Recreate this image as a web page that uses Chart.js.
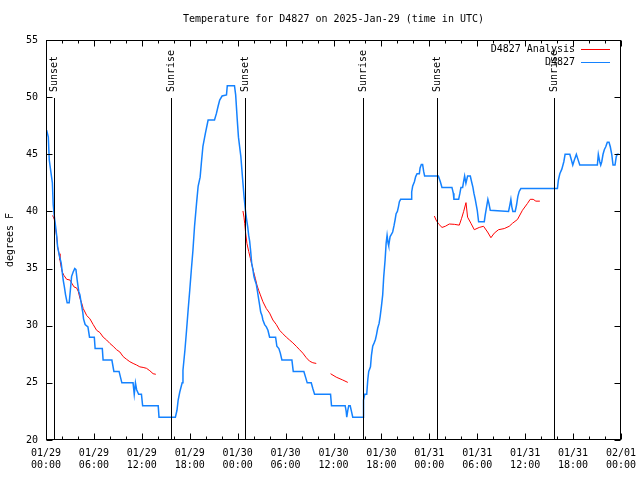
<!DOCTYPE html>
<html lang="en">
<head>
    <meta charset="UTF-8">
    <title>Temperature for D4827</title>
    <script src="https://cdn.jsdelivr.net/npm/chart.js"></script>
    <style>
        body { margin: 0; background: #fff; }
        canvas { display: block; background: #fff; }
    </style>
</head>
<body>
    <canvas id="tempChart" width="640" height="480"></canvas>

    <script>
        const chartTitle = 'Temperature for D4827 on 2025-Jan-29 (time in UTC)';

        // hours since 01/29 00:00 UTC
        const xTickDates = ['01/29', '01/29', '01/29', '01/29', '01/30', '01/30', '01/30', '01/30', '01/31', '01/31', '01/31', '01/31', '02/01'];
        const xTickTimes = ['00:00', '06:00', '12:00', '18:00', '00:00', '06:00', '12:00', '18:00', '00:00', '06:00', '12:00', '18:00', '00:00'];

        const sunHours = [1.04, 15.66, 24.91, 39.66, 48.91, 63.66];
        const sunLabels = ['Sunset', 'Sunrise', 'Sunset', 'Sunrise', 'Sunset', 'Sunrise'];

        const blueHours = [
            0.08, 0.29, 0.41, 0.6, 0.8, 0.9, 1.05, 1.2, 1.35, 1.45, 1.6, 1.75, 1.9, 2.05, 2.15, 2.3, 2.45, 2.65, 2.9, 3.05,
            3.2, 3.4, 3.6, 3.75, 3.9, 4.1, 4.25, 4.4, 4.6, 4.7, 4.9, 5.25, 5.45, 6.05, 6.15, 7.05, 7.15, 8.25, 8.5, 9.15,
            9.5, 10.9, 11.05, 11.2, 11.35, 11.6, 11.95, 12.1, 14.05, 14.15, 16.2, 16.4, 16.55, 16.75, 17.05, 17.15, 17.4, 17.6, 17.8, 18.0,
            18.2, 18.4, 18.6, 18.85, 19.05, 19.3, 19.45, 19.65, 19.95, 20.3, 21.1, 21.35, 21.55, 21.75, 22.05, 22.6, 22.7, 23.6, 23.75, 23.95,
            24.1, 24.4, 24.6, 24.8, 24.97, 25.1, 25.25, 25.38, 25.5, 25.63, 25.75, 25.91, 26.04, 26.16, 26.34, 26.46, 26.59, 26.75, 26.88, 27.04,
            27.16, 27.38, 27.59, 27.79, 28.0, 28.75, 28.91, 29.16, 29.34, 29.54, 30.79, 30.96, 32.29, 32.5, 32.71, 33.21, 33.41, 33.63, 35.63, 35.75,
            37.46, 37.59, 37.66, 37.79, 37.91, 38.09, 38.25, 38.41, 39.66, 39.75, 39.76, 39.91, 40.16, 40.29, 40.41, 40.63, 40.75, 40.91, 41.09, 41.25,
            41.38, 41.54, 41.71, 41.84, 42.0, 42.16, 42.29, 42.46, 42.59, 42.71, 42.84, 42.91, 43.09, 43.25, 43.41, 43.59, 43.71, 43.84, 44.0, 44.13,
            44.25, 44.41, 45.71, 45.79, 45.91, 46.13, 46.29, 46.46, 46.75, 46.84, 47.0, 47.16, 47.29, 47.41, 49.13, 49.38, 49.58, 50.83, 51.0, 51.08,
            51.67, 51.83, 51.96, 52.17, 52.29, 52.42, 52.58, 52.79, 53.13, 53.29, 53.46, 53.58, 53.75, 53.88, 54.0, 54.17, 54.88, 55.0, 55.17, 55.33,
            55.46, 55.63, 57.92, 58.08, 58.21, 58.33, 58.46, 58.75, 58.92, 59.08, 59.25, 59.46, 64.04, 64.16, 64.34, 64.59, 64.84, 65.0, 65.59, 65.79,
            65.96, 66.16, 66.41, 66.59, 66.84, 69.04, 69.16, 69.34, 69.46, 69.59, 69.75, 69.91, 70.09, 70.29, 70.5, 70.66, 70.84, 71.0, 71.25, 71.41,
            71.54, 71.75
        ];
        const blueTemps = [
            47.1, 46.5, 44.5, 43.5, 42.5, 40.6, 39.5, 38.7, 37.8, 36.9, 36.4, 35.9, 35.5, 34.6, 34.0, 33.4, 32.7, 32.0, 32.0, 33.1,
            34.3, 34.7, 35.0, 34.9, 34.0, 33.0, 32.7, 32.0, 31.2, 30.6, 30.1, 29.9, 29.0, 29.0, 28.0, 28.0, 27.0, 27.0, 26.0, 26.0,
            25.0, 25.0, 24.0, 25.0, 24.4, 24.0, 24.0, 23.0, 23.0, 22.0, 22.0, 22.6, 23.5, 24.2, 25.0, 26.1, 27.9, 29.6, 31.4, 33.1,
            34.9, 36.6, 38.7, 40.7, 42.2, 43.0, 44.2, 45.7, 46.8, 48.0, 48.0, 48.6, 49.2, 49.75, 50.1, 50.2, 51.0, 51.0, 50.2, 48.0,
            46.5, 44.8, 43.0, 41.3, 40.1, 39.4, 38.7, 37.9, 37.4, 36.5, 35.5, 34.9, 34.3, 34.0, 33.6, 33.1, 32.5, 31.8, 31.2, 30.9,
            30.5, 30.1, 29.9, 29.6, 29.0, 29.0, 28.2, 28.0, 27.6, 27.0, 27.0, 26.0, 26.0, 25.5, 25.0, 25.0, 24.5, 24.0, 24.0, 23.0,
            23.0, 22.5, 22.0, 22.6, 23.0, 23.0, 22.5, 22.0, 22.0, 22.0, 23.5, 24.0, 24.0, 25.25, 26.0, 26.4, 27.4, 28.2, 28.5, 28.8,
            29.2, 29.8, 30.2, 30.8, 31.7, 32.7, 34.3, 35.75, 37.2, 37.9, 37.2, 37.0, 37.8, 38.0, 38.2, 38.8, 39.25, 39.8, 40.0, 40.4,
            40.85, 41.06, 41.06, 41.7, 42.2, 42.6, 43.05, 43.3, 43.3, 43.8, 44.1, 44.1, 43.5, 43.1, 43.1, 42.6, 42.1, 42.1, 41.6, 41.06,
            41.06, 41.6, 42.1, 42.1, 42.6, 43.1, 42.46, 43.1, 43.1, 42.6, 42.1, 41.6, 41.06, 40.56, 40.1, 39.1, 39.1, 39.7, 40.4, 41.06,
            40.7, 40.1, 40.0, 40.56, 41.06, 40.4, 40.0, 40.0, 40.56, 41.3, 41.75, 42.0, 42.0, 42.75, 43.3, 43.7, 44.35, 45.0, 45.0, 44.5,
            44.06, 44.5, 45.0, 44.6, 44.06, 44.06, 45.0, 44.35, 44.06, 44.35, 45.0, 45.4, 45.66, 46.05, 46.05, 45.66, 45.0, 44.06, 44.06, 44.8,
            45.0, 45.0
        ];

        // null = gap in the analysis line
        const redHours = [
            0.83, 1.04, 1.21, 1.34, 1.46, 1.63, 1.75, 1.88, 2.04, 2.25, 2.59, 3.0, 3.25, 3.5, 3.84, 4.04, 4.25, 4.46, 4.66, 4.88,
            5.09, 5.5, 5.91, 6.34, 6.75, 7.16, 7.59, 8.0, 8.41, 8.84, 9.25, 9.66, 10.09, 10.5, 10.91, 11.34, 11.75, 12.16, 12.59, 13.0,
            13.41, 13.75, 19.0,
            24.66, 24.79, 24.88, 25.0, 25.16, 25.38, 25.59, 25.79, 26.0, 26.21, 26.41, 26.63, 26.84, 27.16, 27.59, 28.0, 28.41, 28.84, 29.25, 29.66,
            30.09, 30.5, 30.91, 31.34, 31.75, 32.16, 32.59, 33.0, 33.41, 33.84, 34.7,
            35.63, 36.34, 37.16, 37.79, 43.0,
            48.63, 48.84, 49.16, 49.59, 50.0, 50.5, 51.13, 51.75, 52.04, 52.29, 52.59, 52.79, 53.21, 53.63, 54.25, 54.79, 55.29, 55.71, 56.13, 56.66,
            57.38, 58.0, 58.41, 59.04, 59.66, 60.29, 60.63, 61.0, 61.34, 61.84
        ];
        const redTemps = [
            39.65, 39.3, 38.4, 37.8, 36.9, 36.3, 35.75, 35.2, 34.7, 34.4, 34.06, 34.0, 33.7, 33.4, 33.3, 33.0, 32.4, 32.0, 31.5, 31.2,
            30.9, 30.6, 30.1, 29.6, 29.4, 29.0, 28.75, 28.45, 28.2, 27.9, 27.7, 27.3, 27.06, 26.85, 26.7, 26.56, 26.4, 26.35, 26.27, 26.06,
            25.8, 25.75, null,
            40.04, 39.5, 38.96, 38.1, 37.2, 36.5, 35.9, 35.3, 34.7, 34.15, 33.56, 33.1, 32.7, 32.1, 31.5, 31.1, 30.5, 30.1, 29.6, 29.3,
            29.0, 28.75, 28.5, 28.2, 27.9, 27.6, 27.2, 26.9, 26.76, 26.7, null,
            25.8, 25.5, 25.25, 25.04, null,
            39.6, 39.25, 38.9, 38.6, 38.7, 38.9, 38.87, 38.8, 39.4, 39.98, 40.77, 39.5, 38.96, 38.4, 38.6, 38.7, 38.2, 37.7, 38.1, 38.4,
            38.5, 38.7, 38.96, 39.3, 40.1, 40.7, 41.06, 41.06, 40.9, 40.9
        ];

        const FONT = '10px "DejaVu Sans Mono", "Liberation Mono", monospace';
        const tickFont = { family: '"DejaVu Sans Mono", "Liberation Mono", monospace', size: 10 };

        const toPoints = (xs, ys) => xs.map((h, i) => ({ x: h, y: ys[i] }));

        // gnuplot look: frame, inward ticks, sun lines, title and legend
        const gnuplotFrame = {
            id: 'gnuplotFrame',
            afterDatasetsDraw(chart) {
                const { ctx, chartArea: a, scales: { x, y } } = chart;
                ctx.save();
                ctx.strokeStyle = '#000';
                ctx.fillStyle = '#000';
                ctx.lineWidth = 1;
                ctx.font = FONT;

                sunHours.forEach((h, i) => {
                    const px = Math.round(x.getPixelForValue(h)) + 0.5;
                    ctx.beginPath();
                    ctx.moveTo(px, a.top + 58);
                    ctx.lineTo(px, a.bottom);
                    ctx.stroke();
                    ctx.save();
                    ctx.translate(px, a.top + 52);
                    ctx.rotate(-Math.PI / 2);
                    ctx.textAlign = 'left';
                    ctx.textBaseline = 'middle';
                    ctx.fillText(sunLabels[i], 0, 0);
                    ctx.restore();
                });

                const L = Math.round(a.left) + 0.5, R = Math.round(a.right) - 0.5;
                const T = Math.round(a.top) + 0.5, B = Math.round(a.bottom) - 0.5;
                ctx.strokeRect(L, T, R - L, B - T);

                ctx.beginPath();
                for (let h = 0; h <= 72; h += 2) {
                    const px = Math.round(x.getPixelForValue(h)) + 0.5;
                    const len = h % 6 === 0 ? 6 : 3;
                    ctx.moveTo(px, B); ctx.lineTo(px, B - len);
                    ctx.moveTo(px, T); ctx.lineTo(px, T + len);
                }
                y.ticks.forEach(t => {
                    const py = Math.round(y.getPixelForValue(t.value)) + 0.5;
                    ctx.moveTo(L, py); ctx.lineTo(L + 6, py);
                    ctx.moveTo(R, py); ctx.lineTo(R - 6, py);
                });
                ctx.stroke();

                ctx.textAlign = 'center';
                ctx.textBaseline = 'middle';
                ctx.fillText(chartTitle, (a.left + a.right) / 2, 19);

                chart.data.datasets.forEach((ds, i) => {
                    const ly = a.top + 9.5 + 13 * i;
                    ctx.textAlign = 'right';
                    ctx.fillStyle = '#000';
                    ctx.fillText(ds.label, a.right - 46, ly);
                    ctx.strokeStyle = ds.borderColor;
                    ctx.beginPath();
                    ctx.moveTo(a.right - 40, ly);
                    ctx.lineTo(a.right - 11, ly);
                    ctx.stroke();
                });
                ctx.restore();
            }
        };

        const ctx = document.getElementById('tempChart').getContext('2d');
        const tempChart = new Chart(ctx, {
            type: 'line',
            data: {
                datasets: [{
                    label: 'D4827 Analysis',
                    data: toPoints(redHours, redTemps),
                    borderColor: '#ff0000',
                    borderWidth: 1,
                    pointRadius: 0,
                    tension: 0,
                    spanGaps: false,
                    order: 1
                }, {
                    label: 'D4827',
                    data: toPoints(blueHours, blueTemps),
                    borderColor: '#1482ff',
                    borderWidth: 1.5,
                    pointRadius: 0,
                    tension: 0,
                    order: 0
                }]
            },
            options: {
                responsive: false,
                animation: false,
                layout: { padding: { top: 40, right: 19, left: 0, bottom: 0 } },
                plugins: {
                    legend: { display: false },
                    title: { display: false },
                    tooltip: { enabled: false }
                },
                scales: {
                    x: {
                        type: 'linear',
                        min: 0,
                        max: 72,
                        grid: { display: false, drawTicks: false },
                        border: { display: false },
                        ticks: {
                            stepSize: 6,
                            autoSkip: false,
                            maxRotation: 0,
                            padding: 7,
                            color: '#000',
                            font: tickFont,
                            callback: v => [xTickDates[v / 6], xTickTimes[v / 6]]
                        },
                        afterFit: s => { s.height = 40; s.paddingLeft = 0; s.paddingRight = 0; }
                    },
                    y: {
                        min: 20,
                        max: 55,
                        grid: { display: false, drawTicks: false },
                        border: { display: false },
                        ticks: { stepSize: 5, padding: 8, color: '#000', font: tickFont },
                        title: {
                            display: true,
                            text: 'degrees F',
                            color: '#000',
                            font: tickFont,
                            padding: { top: 4, bottom: 0 }
                        },
                        afterFit: s => { s.width = 46; s.paddingTop = 0; s.paddingBottom = 0; }
                    }
                }
            },
            plugins: [gnuplotFrame]
        });
    </script>
</body>
</html>
